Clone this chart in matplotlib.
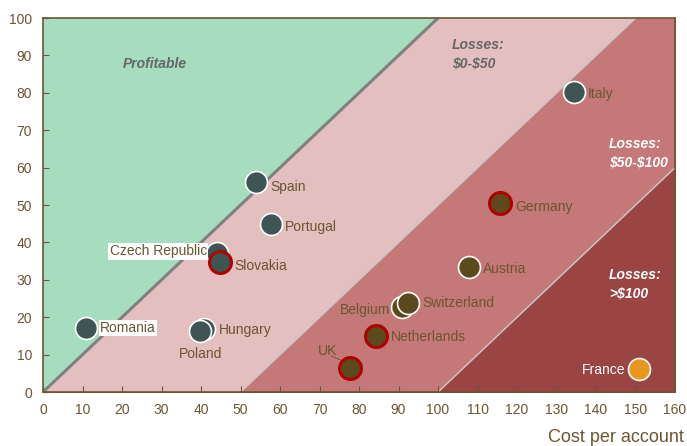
import matplotlib.pyplot as plt
import numpy as np

plt.rcParams['font.family'] = ['Liberation Sans', 'DejaVu Sans']
plt.rcParams['text.parse_math'] = False

# cost per account vs revenue per account, by country
countries = ['Romania', 'Hungary', 'Poland', 'Czech Republic', 'Slovakia', 'Spain',
             'Portugal', 'Italy', 'Germany', 'Austria', 'Belgium', 'Switzerland',
             'Netherlands', 'UK', 'France']
cost = [10.9, 40.8, 39.7, 44.1, 44.9, 54.0, 57.6, 134.4, 115.6, 107.8, 91.0, 92.3, 84.4, 77.6, 150.9]
revenue = [17.1, 16.8, 16.3, 37.2, 34.8, 56.1, 44.9, 80.2, 50.5, 33.4, 22.7, 23.8, 15.0, 6.4, 6.1]
group = ['a', 'a', 'a', 'a', 'a', 'a', 'a', 'a', 'b', 'b', 'b', 'b', 'b', 'b', 'c']
red_ring = ['Slovakia', 'Germany', 'Netherlands', 'UK']

brown = '#6b5532'
face = {'a': '#3e5553', 'b': '#5c4a1e', 'c': '#e8961e'}

fig = plt.figure(figsize=(6.87, 4.46), dpi=100)
ax = fig.add_axes([0.0626, 0.121, 0.92, 0.8386])
ax.set_xlim(0, 160)
ax.set_ylim(0, 100)

# profit / loss bands
ax.fill_between([0, 160], [0, 0], [100, 100], color='#9b4444', zorder=0)
ax.fill([0, 100, 160, 160, 100, 0], [0, 0, 60, 100, 100, 100], color='#c47878', zorder=0)
ax.fill([0, 50, 150, 0], [0, 0, 100, 100], color='#e3bfbf', zorder=0)
ax.fill([0, 100, 0], [0, 100, 100], color='#a6ddbe', zorder=0)
ax.plot([0, 100], [0, 100], color='#808080', lw=2.2, zorder=1)
ax.plot([50, 150], [0, 100], color='#c8c8c8', lw=1, zorder=1)
ax.plot([100, 160], [0, 60], color='#c8c8c8', lw=1, zorder=1)

for c, x, y, g in zip(countries, cost, revenue, group):
    ec = '#b00000' if c in red_ring else 'white'
    lw = 2.2 if c in red_ring else 1.2
    ax.scatter(x, y, s=250, facecolor=face[g], edgecolor=ec, linewidth=lw, zorder=3)

lab = dict(fontsize=10, color=brown, va='center', zorder=4)
box = dict(facecolor='white', edgecolor='none', pad=1)
ax.text(14.5, 17.1, 'Romania', bbox=box, **lab)
ax.text(44.5, 16.5, 'Hungary', **lab)
ax.text(34.5, 10.2, 'Poland', **lab)
ax.text(41.5, 37.6, 'Czech Republic', ha='right', bbox=box, **lab)
ax.text(48.5, 33.8, 'Slovakia', **lab)
ax.text(57.5, 54.8, 'Spain', **lab)
ax.text(61.2, 44.0, 'Portugal', **lab)
ax.text(138, 79.8, 'Italy', **lab)
ax.text(119.5, 49.5, 'Germany', **lab)
ax.text(111.5, 32.9, 'Austria', **lab)
ax.text(87.8, 21.8, 'Belgium', ha='right', **lab)
ax.text(96, 23.8, 'Switzerland', **lab)
ax.text(88, 14.8, 'Netherlands', **lab)
ax.text(69.5, 11.1, 'UK', **lab)
ax.plot([73.0, 75.3], [9.6, 8.6], color=brown, lw=0.6, zorder=2)
ax.text(147.3, 5.9, 'France', ha='right', fontsize=10, color='white', va='center', zorder=4)

reg = dict(fontsize=10, fontweight='bold', style='italic', linespacing=1.4, va='center')
ax.text(20.3, 87.8, 'Profitable', color='#666666', **reg)
ax.text(103.5, 90.2, 'Losses:\n$0-$50', color='#666666', **reg)
ax.text(143.3, 63.8, 'Losses:\n$50-$100', color='white', **reg)
ax.text(143.3, 28.9, 'Losses:\n>$100', color='white', **reg)

ax.set_xticks(np.arange(0, 161, 10))
ax.set_yticks(np.arange(0, 101, 10))
ax.tick_params(direction='in', length=4, color=brown, labelcolor=brown, labelsize=10, pad=8)
for s in ax.spines.values():
    s.set_color(brown)
    s.set_linewidth(1.2)
fig.text(684 / 687, 1 - 437 / 446, 'Cost per account', fontsize=13, color=brown,
         ha='right', va='center')

fig.savefig('out.png', dpi=100)
